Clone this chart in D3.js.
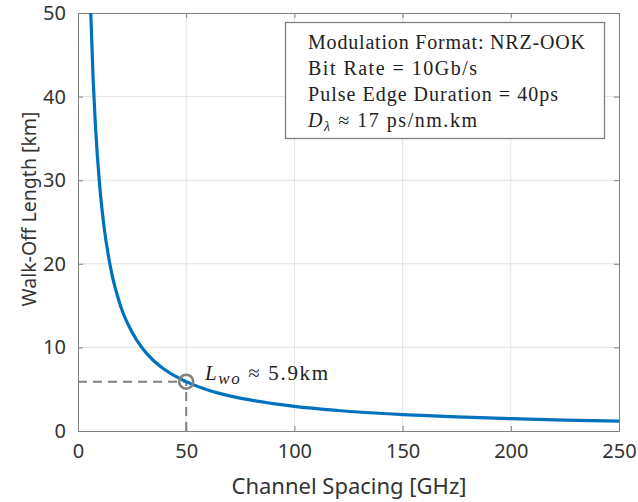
<!DOCTYPE html>
<html>
<head>
<meta charset="utf-8">
<script src="https://cdn.jsdelivr.net/npm/d3@7"></script>
<style>
  body { margin: 0; background: #fff; }
  svg { display: block; }
  .tick text { font-family: "Noto Sans", sans-serif; font-size: 20px; fill: #333; }
</style>
</head>
<body>
<svg id="chart" width="638" height="502"></svg>
<script>
// channel spacing [GHz] vs walk-off length [km]
var spacing = [5.9, 7, 8, 10, 12, 15, 20, 25, 30, 35, 40, 50, 60, 70, 80, 100, 120, 150, 175, 200, 225, 250];
var walkOff = [50, 42, 36.8, 29.4, 24.5, 19.6, 14.7, 11.8, 9.8, 8.4, 7.35, 5.9, 4.9, 4.2, 3.7, 2.94, 2.45, 1.96, 1.68, 1.47, 1.31, 1.18];
var xTicks = [0, 50, 100, 150, 200, 250];
var yTicks = [0, 10, 20, 30, 40, 50];
var marker = {x: 50, y: 5.9};
var infoLines = ["Modulation Format: NRZ-OOK", "Bit Rate = 10Gb/s", "Pulse Edge Duration = 40ps"];
var infoWidths = [277, 169, 250];

var svg = d3.select("#chart");
var pLeft = 78, pRight = 619, pTop = 13, pBottom = 431;

var x = d3.scaleLinear().domain([0, 250]).range([pLeft, pRight]);
var y = d3.scaleLinear().domain([0, 50]).range([pBottom, pTop]);

// grid
var grid = svg.append("g");
grid.selectAll(".gx").data(xTicks.slice(1, -1)).enter().append("line")
  .attr("x1", function(d){ return x(d); }).attr("x2", function(d){ return x(d); })
  .attr("y1", pTop).attr("y2", pBottom)
  .attr("stroke", "#e3e3e3").attr("stroke-width", 1);
grid.selectAll(".gy").data(yTicks.slice(1, -1)).enter().append("line")
  .attr("y1", function(d){ return y(d); }).attr("y2", function(d){ return y(d); })
  .attr("x1", pLeft).attr("x2", pRight)
  .attr("stroke", "#e3e3e3").attr("stroke-width", 1);

// axes (ticks inside, like matlab)
var xAxis = svg.append("g").attr("transform", "translate(0," + pBottom + ")")
  .call(d3.axisBottom(x).tickValues(xTicks).tickSizeInner(-5).tickSizeOuter(0).tickPadding(12));
var yAxis = svg.append("g").attr("transform", "translate(" + pLeft + ",0)")
  .call(d3.axisLeft(y).tickValues(yTicks).tickSizeInner(-5).tickSizeOuter(0).tickPadding(12));
svg.append("g").attr("transform", "translate(0," + pTop + ")")
  .call(d3.axisTop(x).tickValues(xTicks).tickSizeInner(-5).tickSizeOuter(0).tickFormat(""));
svg.append("g").attr("transform", "translate(" + pRight + ",0)")
  .call(d3.axisRight(y).tickValues(yTicks).tickSizeInner(-5).tickSizeOuter(0).tickFormat(""));
svg.selectAll(".domain").attr("stroke", "#808080");
svg.selectAll(".tick line").attr("stroke", "#808080");
xAxis.selectAll(".tick text").attr("dy", "0.75em");

// axis labels
svg.append("text")
  .attr("x", 349).attr("y", 494)
  .attr("text-anchor", "middle")
  .style("font-family", "Noto Sans, sans-serif").style("font-size", "22px").style("fill", "#333")
  .text("Channel Spacing [GHz]");
svg.append("text")
  .attr("transform", "translate(36,209) rotate(-90)")
  .attr("text-anchor", "middle")
  .style("font-family", "Noto Sans, sans-serif").style("font-size", "19.5px").style("fill", "#333")
  .text("Walk-Off Length [km]");

// dashed guide lines to the marker
svg.append("line")
  .attr("x1", x(0)).attr("x2", x(marker.x))
  .attr("y1", y(marker.y)).attr("y2", y(marker.y))
  .attr("stroke", "#808080").attr("stroke-width", 2).attr("stroke-dasharray", "9,6");
svg.append("line")
  .attr("x1", x(marker.x)).attr("x2", x(marker.x))
  .attr("y1", y(0)).attr("y2", y(marker.y))
  .attr("stroke", "#808080").attr("stroke-width", 2).attr("stroke-dasharray", "9,6");

// curve
var pts = spacing.map(function(d, i){ return [d, walkOff[i]]; });
var line = d3.line()
  .x(function(d){ return x(d[0]); })
  .y(function(d){ return y(d[1]); })
  .curve(d3.curveMonotoneX);
svg.append("path")
  .attr("d", line(pts))
  .attr("fill", "none")
  .attr("stroke", "#0072BD")
  .attr("stroke-width", 3.2);

svg.append("circle")
  .attr("cx", x(marker.x)).attr("cy", y(marker.y)).attr("r", 7)
  .attr("fill", "none").attr("stroke", "#808080").attr("stroke-width", 2.6);

// annotation
var ann = svg.append("text")
  .attr("x", 205).attr("y", 380)
  .attr("textLength", 123).attr("lengthAdjust", "spacing")
  .style("font-family", "Liberation Serif, serif").style("font-size", "21px").style("fill", "#222");
ann.append("tspan").style("font-style", "italic").text("L");
ann.append("tspan").style("font-style", "italic").style("font-size", "17px").attr("dy", 4).text("wo");
ann.append("tspan").attr("dy", -4).text(" \u2248 5.9km");

// info box
svg.append("rect")
  .attr("x", 285.5).attr("y", 22.5).attr("width", 319).attr("height", 116)
  .attr("fill", "#fff").attr("stroke", "#808080").attr("stroke-width", 1.3);
var info = svg.append("g")
  .style("font-family", "Liberation Serif, serif").style("font-size", "20px").style("fill", "#222");
info.selectAll("text").data(infoLines).enter().append("text")
  .attr("x", 308)
  .attr("y", function(d, i){ return 49 + i * 26; })
  .attr("textLength", function(d, i){ return infoWidths[i]; })
  .attr("lengthAdjust", "spacing")
  .text(function(d){ return d; });
var dl = info.append("text").attr("x", 308).attr("y", 127)
  .attr("textLength", 169).attr("lengthAdjust", "spacing");
dl.append("tspan").style("font-style", "italic").text("D");
dl.append("tspan").style("font-style", "italic").style("font-size", "14px").attr("dy", 4).text("\u03bb");
dl.append("tspan").attr("dy", -4).text(" \u2248 17 ps/nm.km");
</script>
</body>
</html>
